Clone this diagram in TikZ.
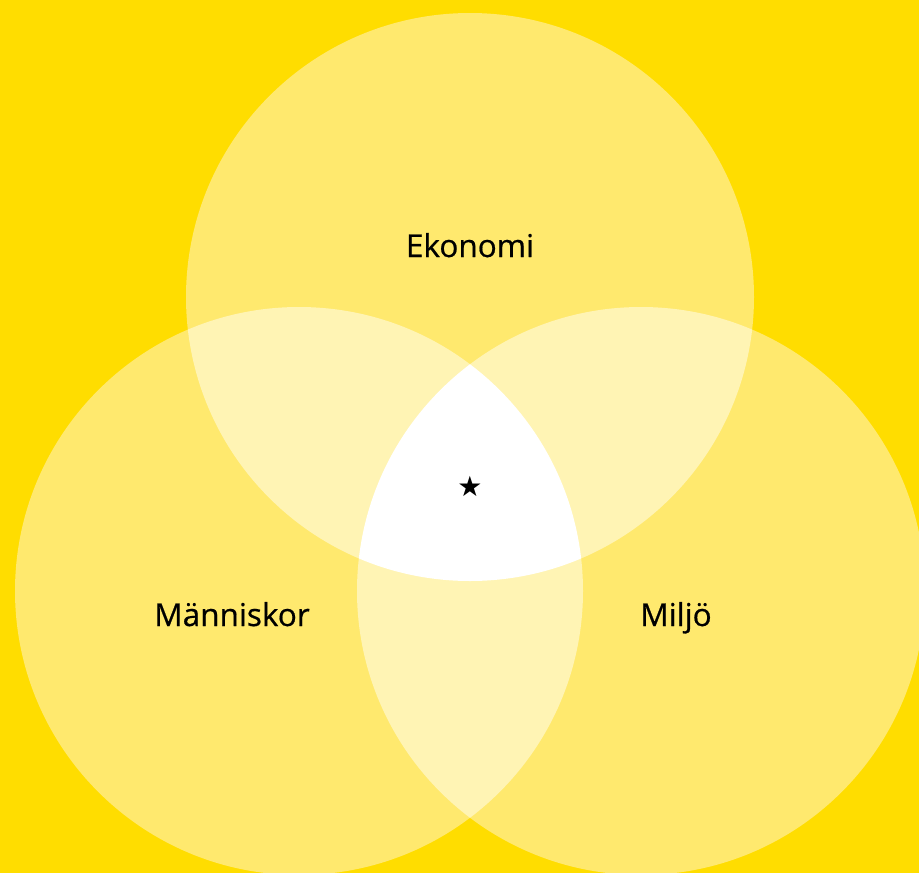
\documentclass[tikz,border=0pt]{standalone}
\usepackage{fontspec}
\setmainfont{Open Sans}[FakeBold=0.6]
\newfontfamily\symfont{DejaVu Sans}
\definecolor{bgyellow}{RGB}{255,221,0}
\definecolor{singlecol}{RGB}{255,233,110}
\definecolor{doublecol}{RGB}{255,244,180}
\tikzset{
  lbl/.style={font=\fontsize{31.5}{36}\selectfont, text=black, anchor=base, inner sep=0pt},
}
\begin{document}
\begin{tikzpicture}[x=1pt,y=-1pt]
\useasboundingbox (0,0) rectangle (919,873);
\clip (0,0) rectangle (919,873);
\fill[bgyellow] (0,0) rectangle (919,873);
\coordinate (ce) at (470,297);
\coordinate (cm) at (299,591);
\coordinate (cj) at (641,591);
\def\R{284pt}
\fill[singlecol] (ce) circle[radius=\R];
\fill[singlecol] (cm) circle[radius=\R];
\fill[singlecol] (cj) circle[radius=\R];
\begin{scope}\clip (ce) circle[radius=\R]; \fill[doublecol] (cm) circle[radius=\R]; \end{scope}
\begin{scope}\clip (ce) circle[radius=\R]; \fill[doublecol] (cj) circle[radius=\R]; \end{scope}
\begin{scope}\clip (cm) circle[radius=\R]; \fill[doublecol] (cj) circle[radius=\R]; \end{scope}
\begin{scope}\clip (ce) circle[radius=\R]; \clip (cm) circle[radius=\R]; \fill[white] (cj) circle[radius=\R]; \end{scope}
\node[lbl] (ekonomi) at (470,257) {Ekonomi};
\node[lbl] (manniskor) at (232,626) {Människor};
\node[lbl] (miljo) at (676,626) {Miljö};
\node[font=\symfont\fontsize{28}{30}\selectfont, inner sep=0pt] (star) at (470,486) {★};
\end{tikzpicture}
\end{document}
